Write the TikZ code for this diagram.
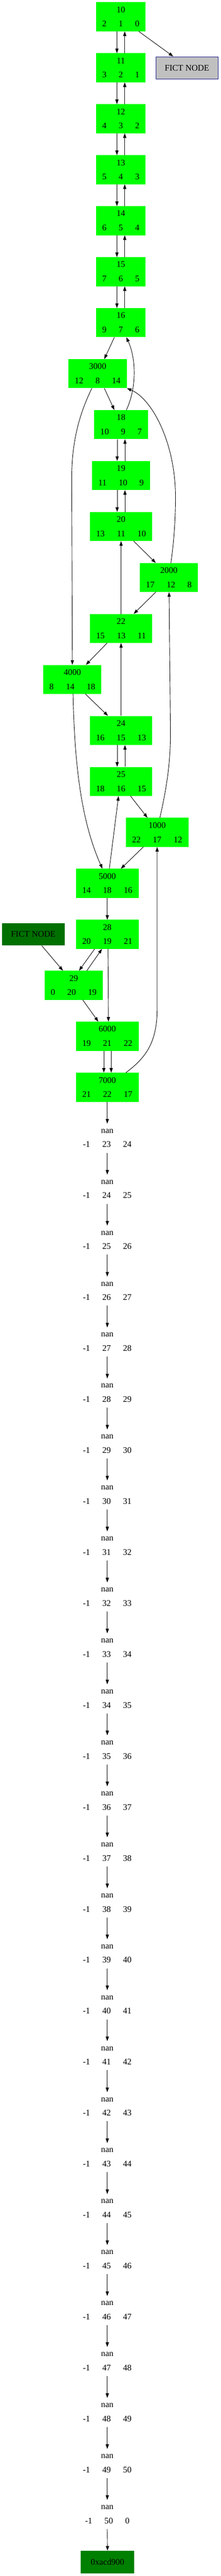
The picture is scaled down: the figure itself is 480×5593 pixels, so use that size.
\documentclass[tikz,border=0pt]{standalone}
\usepackage{fontspec}
\setmainfont{Liberation Serif}
\usetikzlibrary{arrows.meta}
\definecolor{boxGreen}{RGB}{0,255,0}
\definecolor{fictGray}{RGB}{192,192,192}
\definecolor{fictBlue}{RGB}{25,25,140}
\definecolor{fictGreen}{RGB}{0,112,0}
\definecolor{addrGreen}{RGB}{0,128,0}
\newcommand{\cells}[3]{#1\hspace{26.5pt}#2\hspace{26.5pt}#3}
\tikzset{
  cell/.style={align=center,font=\fontsize{18.67}{31}\selectfont,inner xsep=13.5pt,inner ysep=0pt,minimum height=63pt},
  gbox/.style={cell,fill=boxGreen},
  nanbox/.style={cell},
  fictbox/.style={font=\fontsize{18.67}{22}\selectfont,minimum width=136pt,minimum height=49pt,inner sep=0pt},
  edge/.style={-{Triangle[length=10pt,width=7pt]},line width=1pt}
}

\begin{document}
\begin{tikzpicture}[x=1pt,y=-1pt]
            \useasboundingbox (0,0) rectangle (480,5593);

            % upper chain
            \node[gbox] (n10) at (263,36.5) {10\\\cells{2}{1}{0}};
            \node[gbox] (n11) at (263,147.2) {11\\\cells{3}{2}{1}};
            \node[gbox] (n12) at (263,257.8) {12\\\cells{4}{3}{2}};
            \node[gbox] (n13) at (263,368.5) {13\\\cells{5}{4}{3}};
            \node[gbox] (n14) at (263,479.2) {14\\\cells{6}{5}{4}};
            \node[gbox] (n15) at (263,589.9) {15\\\cells{7}{6}{5}};
            \node[gbox] (n16) at (263,700.5) {16\\\cells{9}{7}{6}};
            \node[fictbox,fill=fictGray,draw=fictBlue,line width=1pt] (fictA) at (407,147.5) {FICT NODE};

            % middle part
            \node[gbox] (n3000) at (212.5,811.2) {3000\\\cells{12}{8}{14}};
            \node[gbox] (n18) at (263.5,921.9) {18\\\cells{10}{9}{7}};
            \node[gbox] (n19) at (263.5,1032.5) {19\\\cells{11}{10}{9}};
            \node[gbox] (n20) at (263.5,1143.2) {20\\\cells{13}{11}{10}};
            \node[gbox] (n2000) at (367.5,1253.9) {2000\\\cells{17}{12}{8}};
            \node[gbox] (n22) at (263.5,1364.5) {22\\\cells{15}{13}{11}};
            \node[gbox] (n4000) at (157.5,1475.2) {4000\\\cells{8}{14}{18}};
            \node[gbox] (n24) at (263.5,1585.9) {24\\\cells{16}{15}{13}};
            \node[gbox] (n25) at (263.5,1696.6) {25\\\cells{18}{16}{15}};
            \node[gbox] (n1000) at (342,1807.2) {1000\\\cells{22}{17}{12}};
            \node[gbox] (n5000) at (233.5,1917.9) {5000\\\cells{14}{18}{16}};
            \node[gbox] (n28) at (233.5,2028.6) {28\\\cells{20}{19}{21}};
            \node[fictbox,fill=fictGreen] (fictB) at (72.5,2028.6) {FICT NODE};
            \node[gbox] (n29) at (160.5,2139.2) {29\\\cells{0}{20}{19}};
            \node[gbox] (n6000) at (233.5,2249.9) {6000\\\cells{19}{21}{22}};
            \node[gbox] (n7000) at (233.5,2360.6) {7000\\\cells{21}{22}{17}};

            % nan chain
            \node[nanbox] (nan23) at (233.5,2471.2) {nan\\\cells{-1}{23}{24}};
            \node[nanbox] (nan24) at (233.5,2581.9) {nan\\\cells{-1}{24}{25}};
            \node[nanbox] (nan25) at (233.5,2692.6) {nan\\\cells{-1}{25}{26}};
            \node[nanbox] (nan26) at (233.5,2803.3) {nan\\\cells{-1}{26}{27}};
            \node[nanbox] (nan27) at (233.5,2913.9) {nan\\\cells{-1}{27}{28}};
            \node[nanbox] (nan28) at (233.5,3024.6) {nan\\\cells{-1}{28}{29}};
            \node[nanbox] (nan29) at (233.5,3135.3) {nan\\\cells{-1}{29}{30}};
            \node[nanbox] (nan30) at (233.5,3245.9) {nan\\\cells{-1}{30}{31}};
            \node[nanbox] (nan31) at (233.5,3356.6) {nan\\\cells{-1}{31}{32}};
            \node[nanbox] (nan32) at (233.5,3467.3) {nan\\\cells{-1}{32}{33}};
            \node[nanbox] (nan33) at (233.5,3577.9) {nan\\\cells{-1}{33}{34}};
            \node[nanbox] (nan34) at (233.5,3688.6) {nan\\\cells{-1}{34}{35}};
            \node[nanbox] (nan35) at (233.5,3799.3) {nan\\\cells{-1}{35}{36}};
            \node[nanbox] (nan36) at (233.5,3910.0) {nan\\\cells{-1}{36}{37}};
            \node[nanbox] (nan37) at (233.5,4020.6) {nan\\\cells{-1}{37}{38}};
            \node[nanbox] (nan38) at (233.5,4131.3) {nan\\\cells{-1}{38}{39}};
            \node[nanbox] (nan39) at (233.5,4242.0) {nan\\\cells{-1}{39}{40}};
            \node[nanbox] (nan40) at (233.5,4352.6) {nan\\\cells{-1}{40}{41}};
            \node[nanbox] (nan41) at (233.5,4463.3) {nan\\\cells{-1}{41}{42}};
            \node[nanbox] (nan42) at (233.5,4574.0) {nan\\\cells{-1}{42}{43}};
            \node[nanbox] (nan43) at (233.5,4684.6) {nan\\\cells{-1}{43}{44}};
            \node[nanbox] (nan44) at (233.5,4795.3) {nan\\\cells{-1}{44}{45}};
            \node[nanbox] (nan45) at (233.5,4906.0) {nan\\\cells{-1}{45}{46}};
            \node[nanbox] (nan46) at (233.5,5016.7) {nan\\\cells{-1}{46}{47}};
            \node[nanbox] (nan47) at (233.5,5127.3) {nan\\\cells{-1}{47}{48}};
            \node[nanbox] (nan48) at (233.5,5238.0) {nan\\\cells{-1}{48}{49}};
            \node[nanbox] (nan49) at (233.5,5348.7) {nan\\\cells{-1}{49}{50}};
            \node[nanbox] (nan50) at (233.5,5459.3) {nan\\\cells{-1}{50}{0}};
            \node[fictbox,fill=addrGreen,minimum width=116pt] (addr) at (234,5562.5) {0xacd900};

            % Arrows upper chain
            \draw[edge] ([xshift=39pt]n10.south) -- ([xshift=-30pt]fictA.north);
            \draw[edge] ([xshift=-8.5pt]n10.south) -- ([xshift=-8.5pt]n11.north);
            \draw[edge] ([xshift=8.5pt]n11.north) -- ([xshift=8.5pt]n10.south);
            \draw[edge] ([xshift=-8.5pt]n11.south) -- ([xshift=-8.5pt]n12.north);
            \draw[edge] ([xshift=8.5pt]n12.north) -- ([xshift=8.5pt]n11.south);
            \draw[edge] ([xshift=-8.5pt]n12.south) -- ([xshift=-8.5pt]n13.north);
            \draw[edge] ([xshift=8.5pt]n13.north) -- ([xshift=8.5pt]n12.south);
            \draw[edge] ([xshift=-8.5pt]n13.south) -- ([xshift=-8.5pt]n14.north);
            \draw[edge] ([xshift=8.5pt]n14.north) -- ([xshift=8.5pt]n13.south);
            \draw[edge] ([xshift=-8.5pt]n14.south) -- ([xshift=-8.5pt]n15.north);
            \draw[edge] ([xshift=8.5pt]n15.north) -- ([xshift=8.5pt]n14.south);
            \draw[edge] ([xshift=-8.5pt]n15.south) -- ([xshift=-8.5pt]n16.north);
            \draw[edge] ([xshift=8.5pt]n16.north) -- ([xshift=8.5pt]n15.south);

            % Arrows middle part
            \draw[edge] ([xshift=-14pt]n16.south) -- ([xshift=14.5pt]n3000.north);
            \draw[edge] ([xshift=14.5pt]n3000.south) -- ([xshift=-14.5pt]n18.north);
            \draw[edge] ([xshift=11.5pt]n18.north) .. controls +(22,-46) and +(22,48) .. ([xshift=12pt]n16.south);
            \draw[edge] ([xshift=-8.5pt]n18.south) -- ([xshift=-8.5pt]n19.north);
            \draw[edge] ([xshift=8.5pt]n19.north) -- ([xshift=8.5pt]n18.south);
            \draw[edge] ([xshift=-8.5pt]n19.south) -- ([xshift=-8.5pt]n20.north);
            \draw[edge] ([xshift=8.5pt]n20.north) -- ([xshift=8.5pt]n19.south);
            \draw[edge] ([xshift=27.5pt]n20.south) -- ([xshift=-28.5pt]n2000.north);
            \draw[edge] ([xshift=-28.5pt]n2000.south) -- ([xshift=27.5pt]n22.north);
            \draw[edge] (n22.north) -- (n20.south);
            \draw[edge] ([xshift=4.5pt]n2000.north) .. controls (378,1180) and (382,1130) .. (382,1080)
                .. controls (382,960) and (330,865) .. (n3000.south east);
            \draw[edge] ([xshift=-12.5pt]n3000.south) .. controls (172,900) and (156,960) .. (156,1040) -- (n4000.north);
            \draw[edge] ([xshift=-30.5pt]n22.south) -- ([xshift=29.5pt]n4000.north);
            \draw[edge] ([xshift=28.5pt]n4000.south) -- ([xshift=-28.5pt]n24.north);
            \draw[edge] (n24.north) -- (n22.south);
            \draw[edge] ([xshift=-8.5pt]n24.south) -- ([xshift=-8.5pt]n25.north);
            \draw[edge] ([xshift=8.5pt]n25.north) -- ([xshift=8.5pt]n24.south);
            \draw[edge] ([xshift=20.5pt]n25.south) -- ([xshift=-21pt]n1000.north);
            \draw[edge] ([xshift=6pt]n1000.north) .. controls (365,1700) and (371,1650) .. (371,1590) -- ([xshift=0.5pt]n2000.south);
            \draw[edge] ([xshift=1.5pt]n4000.south) .. controls +(3,144) and +(-48,-107) .. ([xshift=-10.5pt]n5000.north);
            \draw[edge] ([xshift=4.5pt]n5000.north) -- ([xshift=-5.5pt]n25.south);
            \draw[edge] ([xshift=-30pt]n1000.south) -- ([xshift=29.5pt]n5000.north);
            \draw[edge] (n5000.south) -- (n28.north);
            \draw[edge] ([xshift=18.5pt]fictB.south) -- ([xshift=-23.5pt]n29.north);
            \draw[edge] ([xshift=-27.5pt]n28.south) -- ([xshift=11.5pt]n29.north);
            \draw[edge] ([xshift=28.5pt]n29.north) -- ([xshift=-11.5pt]n28.south);
            \draw[edge] ([xshift=1.5pt]n28.south) -- ([xshift=2.5pt]n6000.north);
            \draw[edge] ([xshift=19.5pt]n29.south) -- ([xshift=-19.5pt]n6000.north);
            \draw[edge] ([xshift=-7.5pt]n6000.south) -- ([xshift=-7.5pt]n7000.north);
            \draw[edge] ([xshift=8.5pt]n6000.south) -- ([xshift=8.5pt]n7000.north);
            \draw[edge] ([xshift=40.5pt]n7000.north) .. controls (320,2295) and (342,2260) .. (342,2190) -- (n1000.south);

            % Arrows nan chain
            \draw[edge] (n7000.south) -- (nan23.north);
            \draw[edge] (nan23.south) -- (nan24.north);
            \draw[edge] (nan24.south) -- (nan25.north);
            \draw[edge] (nan25.south) -- (nan26.north);
            \draw[edge] (nan26.south) -- (nan27.north);
            \draw[edge] (nan27.south) -- (nan28.north);
            \draw[edge] (nan28.south) -- (nan29.north);
            \draw[edge] (nan29.south) -- (nan30.north);
            \draw[edge] (nan30.south) -- (nan31.north);
            \draw[edge] (nan31.south) -- (nan32.north);
            \draw[edge] (nan32.south) -- (nan33.north);
            \draw[edge] (nan33.south) -- (nan34.north);
            \draw[edge] (nan34.south) -- (nan35.north);
            \draw[edge] (nan35.south) -- (nan36.north);
            \draw[edge] (nan36.south) -- (nan37.north);
            \draw[edge] (nan37.south) -- (nan38.north);
            \draw[edge] (nan38.south) -- (nan39.north);
            \draw[edge] (nan39.south) -- (nan40.north);
            \draw[edge] (nan40.south) -- (nan41.north);
            \draw[edge] (nan41.south) -- (nan42.north);
            \draw[edge] (nan42.south) -- (nan43.north);
            \draw[edge] (nan43.south) -- (nan44.north);
            \draw[edge] (nan44.south) -- (nan45.north);
            \draw[edge] (nan45.south) -- (nan46.north);
            \draw[edge] (nan46.south) -- (nan47.north);
            \draw[edge] (nan47.south) -- (nan48.north);
            \draw[edge] (nan48.south) -- (nan49.north);
            \draw[edge] (nan49.south) -- (nan50.north);
            \draw[edge] (nan50.south) -- (addr.north);
        \end{tikzpicture}
\end{document}
